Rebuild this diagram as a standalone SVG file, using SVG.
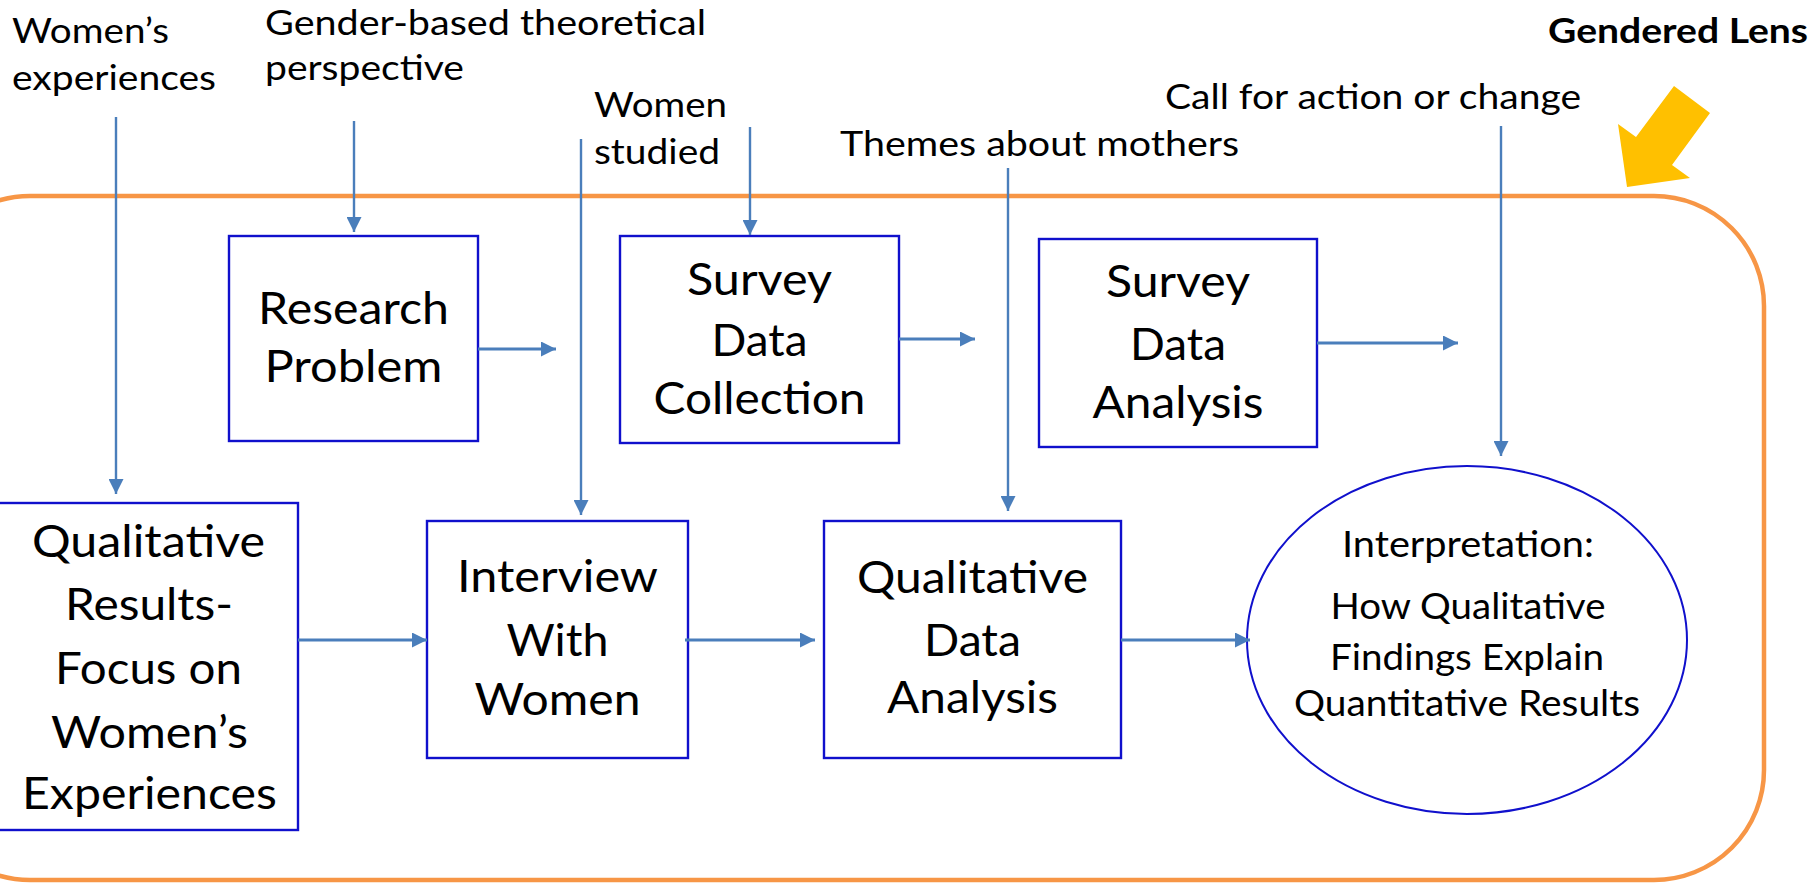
<svg xmlns="http://www.w3.org/2000/svg" width="1814" height="883" viewBox="0 0 1814 883">
<defs>
<marker id="ah" markerUnits="userSpaceOnUse" markerWidth="15" markerHeight="15" refX="15" refY="7.5" orient="auto">
<path d="M0,0 L15,7.5 L0,15 z" fill="#4A7EBB"/>
</marker>
<style>
.box{fill:#fff;stroke:#1010CC;stroke-width:2.4}
.ell{fill:#fff;stroke:#1010CC;stroke-width:2}
.big{font-family:Lato,"Liberation Sans",sans-serif;font-size:45px;fill:#000;text-anchor:middle}
.lab{font-family:Lato,"Liberation Sans",sans-serif;font-size:35px;fill:#000}
.mid{font-family:Lato,"Liberation Sans",sans-serif;font-size:36px;fill:#000;text-anchor:middle}
.v{stroke:#4A7EBB;stroke-width:2.4;fill:none;marker-end:url(#ah)}
.h{stroke:#4A7EBB;stroke-width:3.2;fill:none;marker-end:url(#ah)}
</style>
</defs>
<rect id="frame" x="-80" y="196" width="1844" height="684" rx="110" ry="110" fill="none" stroke="#F79646" stroke-width="4.5"/>
<polygon id="lens-arrow" points="1627,187 1618,124 1636,137 1674,86 1710,113 1672,165 1690,178" fill="#FFC000"/>
<text class="lab" x="1548" y="43" font-weight="bold" textLength="260" lengthAdjust="spacingAndGlyphs">Gendered Lens</text>
<g id="labels">
<text class="lab" x="12" y="43" textLength="157" lengthAdjust="spacingAndGlyphs">Women’s</text>
<text class="lab" x="12" y="90" textLength="204" lengthAdjust="spacingAndGlyphs">experiences</text>
<text class="lab" x="265" y="35" textLength="441" lengthAdjust="spacingAndGlyphs">Gender-based theoretical</text>
<text class="lab" x="265" y="80" textLength="199" lengthAdjust="spacingAndGlyphs">perspective</text>
<text class="lab" x="594" y="117" textLength="133" lengthAdjust="spacingAndGlyphs">Women</text>
<text class="lab" x="594" y="164" textLength="126" lengthAdjust="spacingAndGlyphs">studied</text>
<text class="lab" x="840" y="156" textLength="399" lengthAdjust="spacingAndGlyphs">Themes about mothers</text>
<text class="lab" x="1165" y="109" textLength="416" lengthAdjust="spacingAndGlyphs">Call for action or change</text>
</g>
<g id="research-problem">
<rect class="box" x="229" y="236" width="249" height="205"/>
<text class="big" x="353.5" y="324" textLength="191" lengthAdjust="spacingAndGlyphs">Research</text>
<text class="big" x="353.5" y="382" textLength="178" lengthAdjust="spacingAndGlyphs">Problem</text>
</g>
<g id="survey-data-collection">
<rect class="box" x="620" y="236" width="279" height="207"/>
<text class="big" x="759.5" y="295" textLength="145" lengthAdjust="spacingAndGlyphs">Survey</text>
<text class="big" x="759.5" y="356" textLength="96" lengthAdjust="spacingAndGlyphs">Data</text>
<text class="big" x="759.5" y="414" textLength="212" lengthAdjust="spacingAndGlyphs">Collection</text>
</g>
<g id="survey-data-analysis">
<rect class="box" x="1039" y="239" width="278" height="208"/>
<text class="big" x="1178" y="297" textLength="144" lengthAdjust="spacingAndGlyphs">Survey</text>
<text class="big" x="1178" y="360" textLength="96" lengthAdjust="spacingAndGlyphs">Data</text>
<text class="big" x="1178" y="418" textLength="171" lengthAdjust="spacingAndGlyphs">Analysis</text>
</g>
<g id="qualitative-results">
<rect class="box" x="-2" y="503" width="300" height="327"/>
<text class="big" x="148.5" y="557" textLength="233" lengthAdjust="spacingAndGlyphs">Qualitative</text>
<text class="big" x="149" y="620" textLength="168" lengthAdjust="spacingAndGlyphs">Results-</text>
<text class="big" x="148.5" y="684" textLength="187" lengthAdjust="spacingAndGlyphs">Focus on</text>
<text class="big" x="149.5" y="748" textLength="197" lengthAdjust="spacingAndGlyphs">Women’s</text>
<text class="big" x="149.5" y="809" textLength="255" lengthAdjust="spacingAndGlyphs">Experiences</text>
</g>
<g id="interview">
<rect class="box" x="427" y="521" width="261" height="237"/>
<text class="big" x="557.5" y="592" textLength="201" lengthAdjust="spacingAndGlyphs">Interview</text>
<text class="big" x="557.5" y="656" textLength="102" lengthAdjust="spacingAndGlyphs">With</text>
<text class="big" x="557.5" y="715" textLength="166" lengthAdjust="spacingAndGlyphs">Women</text>
</g>
<g id="qualitative-data-analysis">
<rect class="box" x="824" y="521" width="297" height="237"/>
<text class="big" x="972.5" y="593" textLength="231" lengthAdjust="spacingAndGlyphs">Qualitative</text>
<text class="big" x="972.5" y="656" textLength="97" lengthAdjust="spacingAndGlyphs">Data</text>
<text class="big" x="972.5" y="713" textLength="171" lengthAdjust="spacingAndGlyphs">Analysis</text>
</g>
<g id="interpretation">
<ellipse class="ell" cx="1467" cy="640" rx="220" ry="174"/>
<text class="mid" x="1468" y="557" textLength="252" lengthAdjust="spacingAndGlyphs">Interpretation:</text>
<text class="mid" x="1468" y="619" textLength="275" lengthAdjust="spacingAndGlyphs">How Qualitative</text>
<text class="mid" x="1467" y="670" textLength="274" lengthAdjust="spacingAndGlyphs">Findings Explain</text>
<text class="mid" x="1467" y="716" textLength="346" lengthAdjust="spacingAndGlyphs">Quantitative Results</text>
</g>
<g id="connectors">
<line class="v" x1="116" y1="117" x2="116" y2="494"/>
<line class="v" x1="354" y1="121" x2="354" y2="232"/>
<line class="v" x1="581" y1="139" x2="581" y2="515"/>
<line class="v" x1="750" y1="127" x2="750" y2="235"/>
<line class="v" x1="1008" y1="168" x2="1008" y2="511"/>
<line class="v" x1="1501" y1="126" x2="1501" y2="456"/>
<line class="h" x1="478" y1="349" x2="556" y2="349"/>
<line class="h" x1="899" y1="339" x2="975" y2="339"/>
<line class="h" x1="1317" y1="343" x2="1458" y2="343"/>
<line class="h" x1="298" y1="640" x2="427" y2="640"/>
<line class="h" x1="685" y1="640" x2="815" y2="640"/>
<line class="h" x1="1121" y1="640" x2="1250" y2="640"/>
</g>
</svg>
